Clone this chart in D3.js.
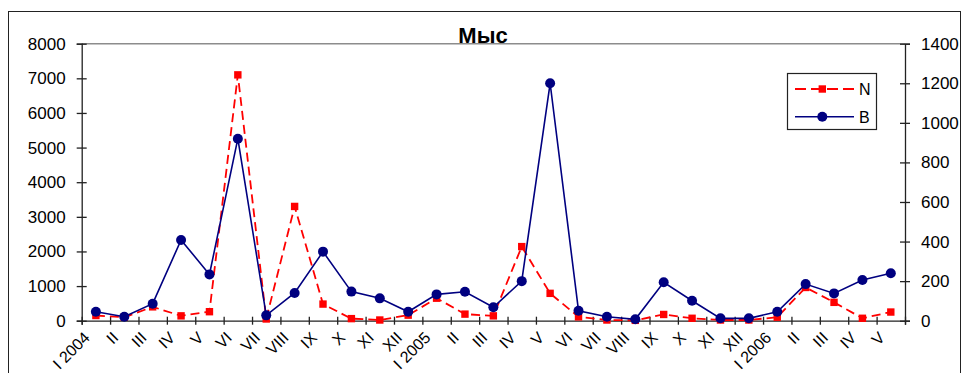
<!DOCTYPE html>
<html>
<head>
<meta charset="utf-8">
<script src="https://cdn.jsdelivr.net/npm/d3@7"></script>
<style>
  html, body { margin: 0; padding: 0; background: #fff; }
  svg text { font-family: "Liberation Sans", Arial, sans-serif; fill: #000; }
</style>
</head>
<body>
<svg id="chart" width="963" height="373"></svg>
<script>
// Monthly categories, Jan 2004 – May 2006
const categories = [
  "I 2004", "II", "III", "IV", "V", "VI", "VII", "VIII", "IX", "X", "XI", "XII",
  "I 2005", "II", "III", "IV", "V", "VI", "VII", "VIII", "IX", "X", "XI", "XII",
  "I 2006", "II", "III", "IV", "V"
];
// N — left axis
const seriesN = [150, 100, 400, 140, 260, 7100, 50, 3300, 480, 60, 20, 160,
                 650, 190, 140, 2140, 790, 110, 20, 10, 180, 70, 20, 20,
                 100, 960, 530, 70, 250];
// B — right axis
const seriesB = [45, 20, 86, 408, 234, 920, 27, 140, 349, 147, 113, 45,
                 133, 146, 68, 200, 1200, 50, 20, 7, 194, 101, 12, 12,
                 45, 185, 138, 206, 240];
const leftTicks = [0, 1000, 2000, 3000, 4000, 5000, 6000, 7000, 8000];
const rightTicks = [0, 200, 400, 600, 800, 1000, 1200, 1400];
const title = "Мыс";

const svg = d3.select("#chart");
const plot = { left: 81.7, right: 905, top: 43.7, bottom: 320.7 };

// outer frame
svg.append("rect")
  .attr("x", 8.5).attr("y", 11.5).attr("width", 952).attr("height", 380)
  .attr("fill", "none").attr("stroke", "#222").attr("stroke-width", 1);

const x = d3.scaleBand().domain(d3.range(categories.length))
  .range([plot.left, plot.right]).padding(0);
const xEdge = d3.scaleLinear().domain([0, categories.length])
  .range([plot.left, plot.right]);
const yL = d3.scaleLinear().domain([0, 8000]).range([plot.bottom, plot.top]);
const yR = d3.scaleLinear().domain([0, 1400]).range([plot.bottom, plot.top]);
const cx = i => x(i) + x.bandwidth() / 2;

// top edge of plot area
svg.append("line")
  .attr("x1", plot.left).attr("x2", plot.right)
  .attr("y1", plot.top).attr("y2", plot.top)
  .attr("stroke", "#8c8c8c").attr("stroke-width", 1.5);

// left axis
const gL = svg.append("g").attr("transform", `translate(${plot.left},0)`)
  .call(d3.axisLeft(yL).tickValues(leftTicks).tickSize(5).tickPadding(11).tickFormat(d3.format("d")));
// right axis
const gR = svg.append("g").attr("transform", `translate(${plot.right},0)`)
  .call(d3.axisRight(yR).tickValues(rightTicks).tickSize(5).tickPadding(11).tickFormat(d3.format("d")));
// bottom axis: ticks at category boundaries
const gB = svg.append("g").attr("transform", `translate(0,${plot.bottom})`)
  .call(d3.axisBottom(xEdge).tickValues(d3.range(categories.length + 1)).tickSize(4).tickFormat(""));

[gL, gR].forEach(g => {
  g.select(".domain").attr("stroke", "#222").attr("stroke-width", 1.3);
  g.selectAll(".tick line").attr("x1", -5).attr("x2", 5).attr("stroke", "#222").attr("stroke-width", 1.3);
  g.selectAll(".tick text").attr("font-size", 17).attr("font-family", "Liberation Sans, Arial, sans-serif").attr("fill", "#000");
});
gL.selectAll(".tick text").attr("x", -16);
gR.selectAll(".tick text").attr("x", 16);
gB.select(".domain").attr("stroke", "#222").attr("stroke-width", 1.3);
gB.selectAll(".tick line").attr("y1", -4).attr("y2", 4).attr("stroke", "#222").attr("stroke-width", 1.3);

// category labels, rotated
svg.append("g").selectAll("text").data(categories).join("text")
  .attr("transform", (d, i) => `translate(${cx(i) - 5},${plot.bottom + 18}) rotate(-45)`)
  .attr("text-anchor", "end")
  .attr("font-size", 16)
  .text(d => d);

// title
svg.append("text")
  .attr("x", 483).attr("y", 43)
  .attr("text-anchor", "middle")
  .attr("font-size", 22).attr("font-weight", "bold")
  .text(title);

// series N
const lineN = d3.line().x((d, i) => cx(i)).y(d => yL(d));
svg.append("path").datum(seriesN)
  .attr("d", lineN).attr("fill", "none")
  .attr("stroke", "#ff0000").attr("stroke-width", 1.8).attr("stroke-dasharray", "9,5");
svg.append("g").selectAll("rect").data(seriesN).join("rect")
  .attr("x", (d, i) => cx(i) - 3.7).attr("y", d => yL(d) - 3.7)
  .attr("width", 7.4).attr("height", 7.4).attr("fill", "#ff0000");

// series B
const lineB = d3.line().x((d, i) => cx(i)).y(d => yR(d));
svg.append("path").datum(seriesB)
  .attr("d", lineB).attr("fill", "none")
  .attr("stroke", "#000080").attr("stroke-width", 1.6);
svg.append("g").selectAll("circle").data(seriesB).join("circle")
  .attr("cx", (d, i) => cx(i)).attr("cy", d => yR(d))
  .attr("r", 5).attr("fill", "#000080");

// legend
const lg = svg.append("g");
lg.append("rect").attr("x", 787.5).attr("y", 73.5).attr("width", 89).attr("height", 56)
  .attr("fill", "#fff").attr("stroke", "#222").attr("stroke-width", 1.2);
lg.append("line").attr("x1", 795).attr("x2", 854).attr("y1", 89).attr("y2", 89)
  .attr("stroke", "#ff0000").attr("stroke-width", 1.8).attr("stroke-dasharray", "11,5");
lg.append("rect").attr("x", 822.3 - 3.7).attr("y", 89 - 3.7).attr("width", 7.4).attr("height", 7.4).attr("fill", "#ff0000");
lg.append("line").attr("x1", 795).attr("x2", 854).attr("y1", 116.7).attr("y2", 116.7)
  .attr("stroke", "#000080").attr("stroke-width", 1.6);
lg.append("circle").attr("cx", 822.3).attr("cy", 116.7).attr("r", 5).attr("fill", "#000080");
lg.append("text").attr("x", 859).attr("y", 94.5).attr("font-size", 16).text("N");
lg.append("text").attr("x", 859).attr("y", 122.5).attr("font-size", 16).text("B");
</script>
</body>
</html>
